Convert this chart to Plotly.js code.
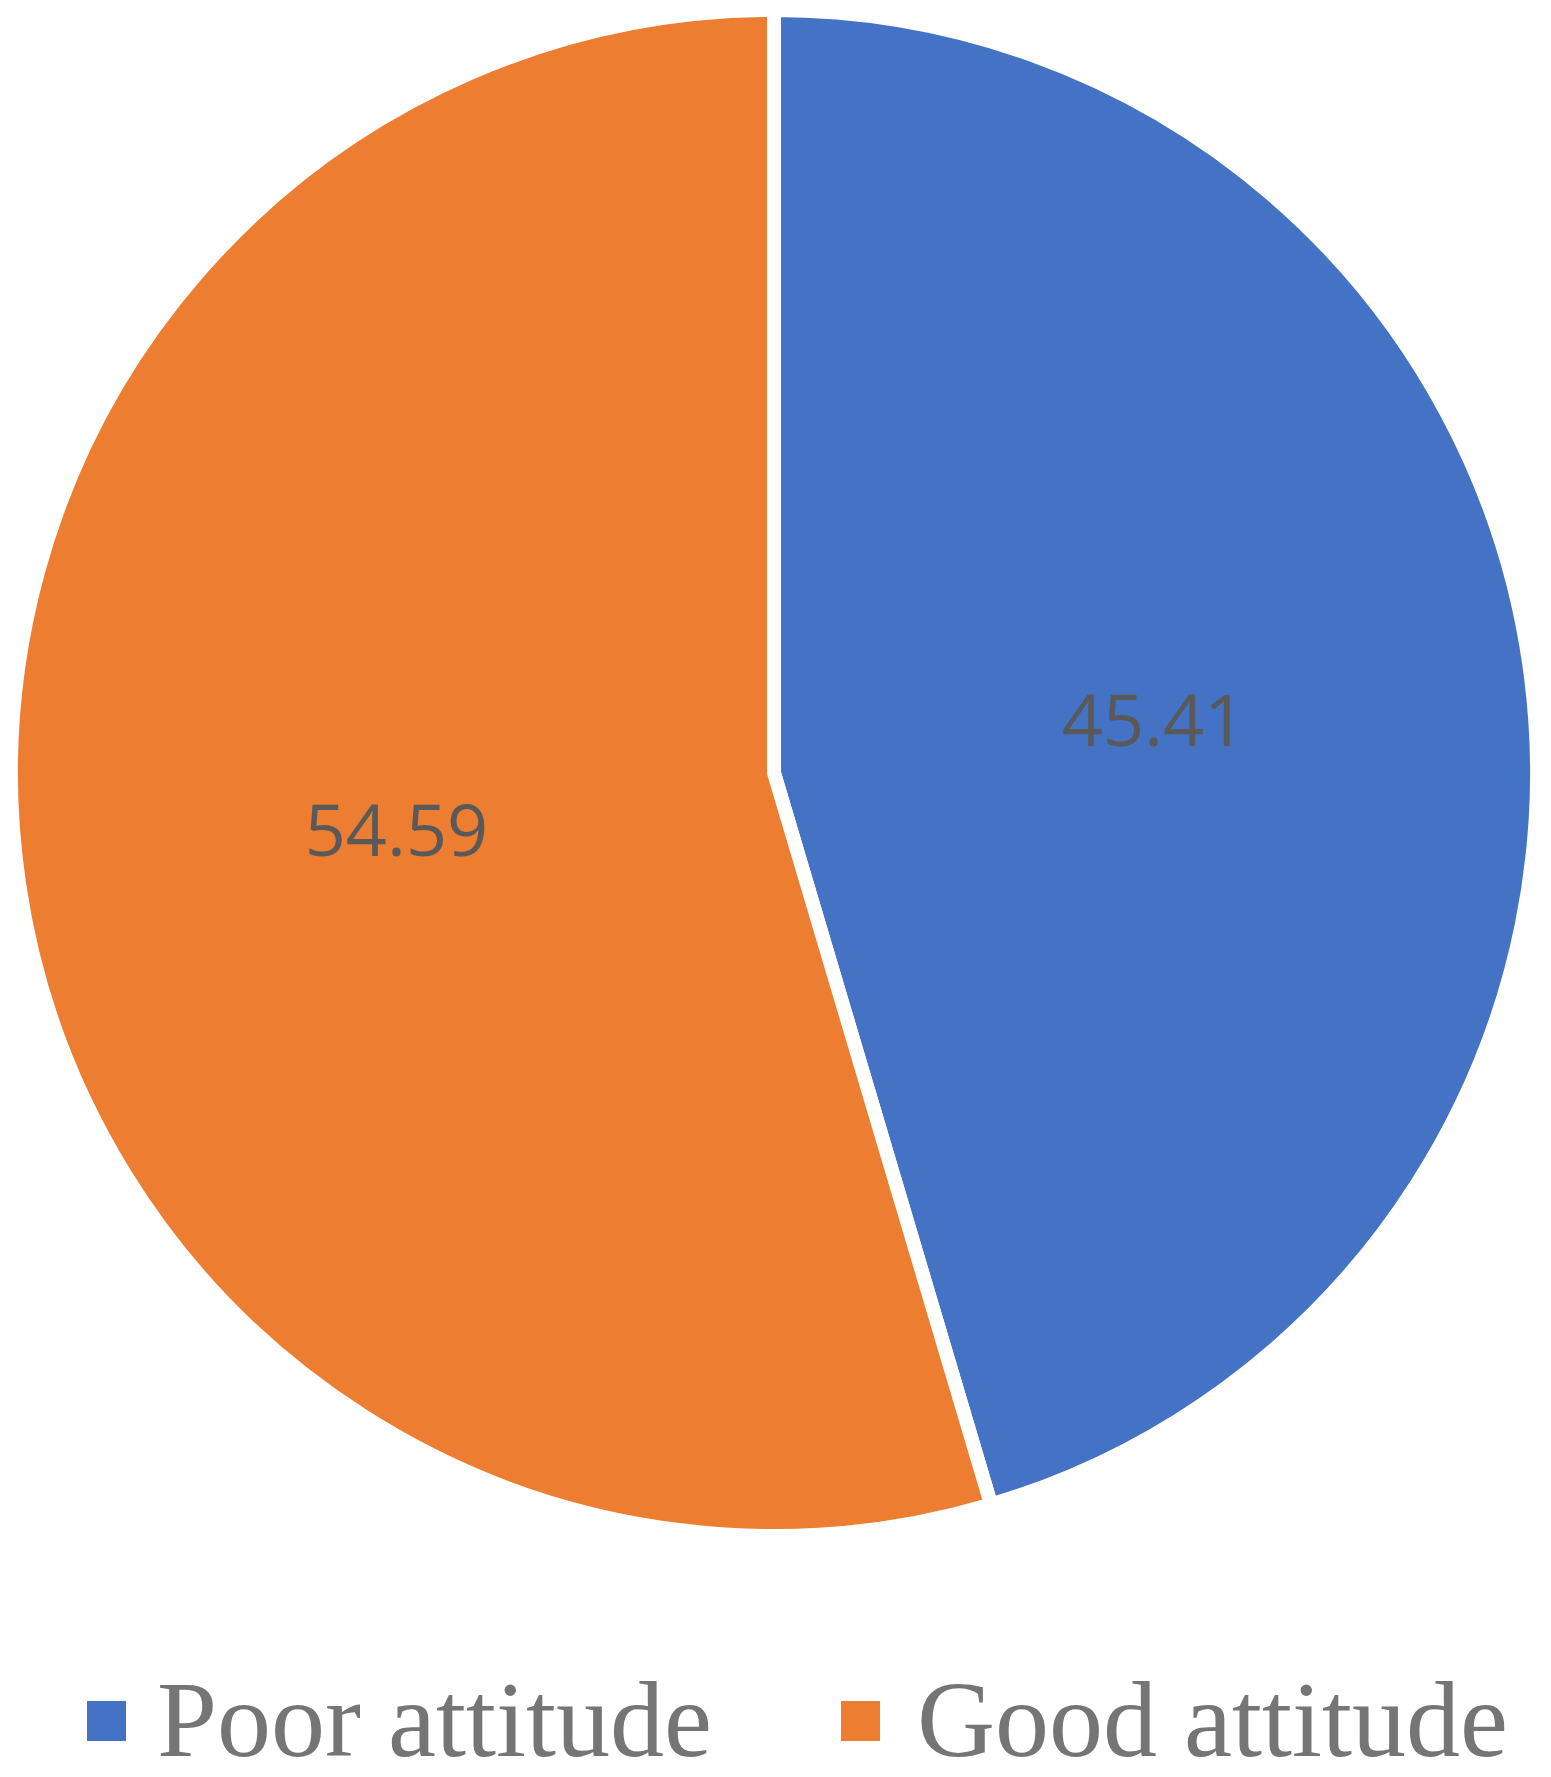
<!DOCTYPE html>
<html>
<head>
<meta charset="utf-8">
<script src="https://cdn.plot.ly/plotly-3.0.1.min.js"></script>
<style>
  body { margin: 0; background: #fff; }
  #chart { width: 1551px; height: 1777px; }
</style>
</head>
<body>
<div id="chart"></div>
<script>
// attitude categories and their share (%)
var labels = ['Poor attitude', 'Good attitude'];
var values = [45.41, 54.59];
var colors = ['#4472C4', '#ED7D31'];

var W = 1551, H = 1777;

var trace = {
	type: 'pie',
	labels: labels,
	values: values,
	sort: false,
	direction: 'clockwise',
	rotation: 0,
	marker: { colors: colors, line: { color: '#ffffff', width: 14 } },
	texttemplate: '%{value:.2f}',
	textposition: 'inside',
	insidetextorientation: 'horizontal',
	textfont: { family: 'Open Sans, sans-serif', size: 72, color: '#595959' },
	hoverinfo: 'none',
	domain: { x: [0.0071, 0.9910], y: [0.1356, 0.9944] }
};

// custom legend: big squares + serif text, like the original
var legX = [87, 841];      // left of square, px
var textX = [155, 915];    // left of text, px
var shapes = [], annotations = [];
for (var i = 0; i < labels.length; i++) {
	shapes.push({
		type: 'rect', xref: 'paper', yref: 'paper',
		x0: legX[i] / W, x1: (legX[i] + 39) / W,
		y0: (H - 1741) / H, y1: (H - 1701) / H,
		fillcolor: colors[i], line: { width: 0 }
	});
	annotations.push({
		xref: 'paper', yref: 'paper',
		x: textX[i] / W, y: (H - 1719) / H,
		xanchor: 'left', yanchor: 'middle',
		height: 110, valign: 'middle',
		text: labels[i], showarrow: false,
		font: { family: 'Liberation Serif, Times New Roman, serif', size: 108, color: '#757575' }
	});
}

var layout = {
	width: W,
	height: H,
	margin: { l: 0, r: 0, t: 0, b: 0 },
	paper_bgcolor: '#ffffff',
	showlegend: false,
	shapes: shapes,
	annotations: annotations
};

Plotly.newPlot('chart', [trace], layout, { displayModeBar: false, staticPlot: true });
</script>
</body>
</html>
